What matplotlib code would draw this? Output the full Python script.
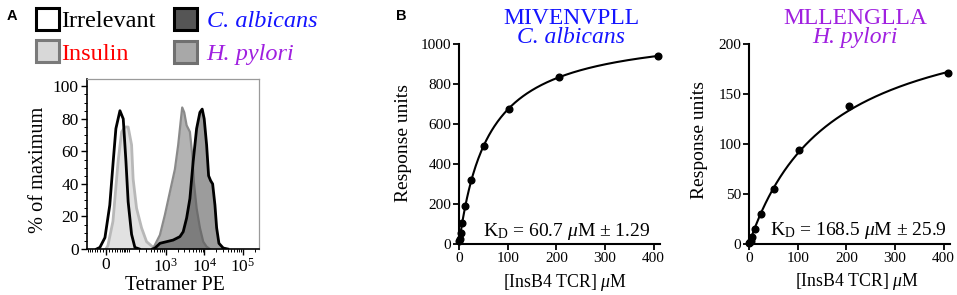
import numpy as np
import matplotlib
matplotlib.use("Agg")
import matplotlib.pyplot as plt
from matplotlib.patches import Rectangle

plt.rcParams['font.family'] = ['Liberation Serif', 'DejaVu Serif']
plt.rcParams['mathtext.fontset'] = 'custom'
plt.rcParams['mathtext.rm'] = 'Liberation Serif'
plt.rcParams['mathtext.it'] = 'Liberation Serif:italic'
plt.rcParams['mathtext.bf'] = 'Liberation Serif:bold'

# ---------------- Panel A data (Tetramer PE histograms) ----------------
irr_x = [-32, -20, -3, 13, 25, 35, 52, 68, 83, 97, 122, 151, 200]
irr_y = [0, 1, 7, 27, 54, 74, 85, 80, 54, 29, 9, 1, 0]

ins_x = [0, 6.6, 24, 44, 60, 77, 97, 122, 135, 168, 229, 311, 464, 520]
ins_y = [0, 2, 17, 54, 72, 75, 75, 64, 43, 25, 13, 4.5, 1, 0]

hp_x = [450, 514, 695, 937, 1263, 1704, 2076, 2398, 2638, 2974, 3434, 4180,
        4797, 5306, 6241, 7601, 9258, 11346, 13823]
hp_y = [0, 2.5, 8.6, 21, 35, 49, 64, 78, 87, 84, 76, 72, 58, 41, 25, 13, 4.5, 1.4, 0]

ca_x = [450, 514, 695, 1036, 1539, 2300, 2800, 3434, 4180, 5090, 6241, 7601,
        8720, 9826, 11346, 12790, 14430, 16270, 18670, 20660, 23700, 30640, 40000]
ca_y = [0, 0.5, 3.5, 4.5, 5.5, 7.6, 10.6, 19, 31, 54, 74, 84, 86, 80, 64, 45,
        42, 40, 27, 13, 3.5, 0.6, 0]

legend_labels = ['Irrelevant', 'Insulin', 'C. albicans', 'H. pylori']
legend_text_colors = ['black', '#ff0000', '#1414ff', '#a020e0']

a_xticks = [0, 1e3, 1e4, 1e5]
a_xticklabels = ['0', r'$10^3$', r'$10^4$', r'$10^5$']
a_yticks = [0, 20, 40, 60, 80, 100]

# ---------------- Panel B data (SPR binding) ----------------
conc = [0.8, 1.6, 3.2, 6.4, 12.8, 25.6, 51.2, 102.4, 204.8, 409.6]
ca_ru = [14, 27, 53, 107, 192, 318, 490, 677, 833, 940]
hp_ru = [1, 1.8, 3.5, 7, 15, 30, 55, 94.5, 138, 171]

kd_ca, bmax_ca = 60.7, 1080
kd_hp, bmax_hp = 168.5, 243

b1_title = ['MIVENVPLL', 'C. albicans']
b2_title = ['MLLENGLLA', 'H. pylori']
b1_kd_text = r'$\mathrm{K_D}$ = 60.7 $\mu$M ± 1.29'
b2_kd_text = r'$\mathrm{K_D}$ = 168.5 $\mu$M ± 25.9'

W, H = 957, 295
fig = plt.figure(figsize=(W / 100, H / 100), dpi=100)


def fx(x):
    return x / W


def fy(y):
    return 1 - y / H


def axes_px(x0, y0, x1, y1):
    return fig.add_axes([fx(x0), fy(y1), (x1 - x0) / W, (y1 - y0) / H])


# ---------------- Panel A ----------------
axA = axes_px(87, 79, 259, 249)
axA.set_xscale('asinh', linear_width=55)

axA.fill_between(ins_x, ins_y, 0, color='#dcdcdc', alpha=0.85, lw=0, zorder=1)
axA.plot(ins_x, ins_y, color='#b8b8b8', lw=2.0, zorder=2)
axA.plot(irr_x, irr_y, color='black', lw=2.0, zorder=3)

axA.fill_between(hp_x, hp_y, 0, color='#9a9a9a', alpha=0.75, lw=0, zorder=1)
axA.plot(hp_x, hp_y, color='#8a8a8a', lw=1.6, zorder=2)
axA.fill_between(ca_x, ca_y, 0, color='#5a5a5a', alpha=0.6, lw=0, zorder=2)
axA.plot(ca_x, ca_y, color='black', lw=2.0, zorder=3)

axA.set_xlim(-76, 2.6e5)
axA.set_ylim(0, 104.5)
axA.set_xticks(a_xticks)
axA.set_xticklabels(a_xticklabels)
minor_x = ([-70, -60, -50, -40, -30, -20, -10, 10, 20, 30, 40, 50, 60, 70, 80, 90]
           + [k * 100 for k in range(1, 10)]
           + [k * 1000 for k in range(2, 10)]
           + [k * 10000 for k in range(2, 10)] + [2e5])
axA.set_xticks(minor_x, minor=True)
axA.set_yticks(a_yticks)
axA.set_yticks(np.arange(0, 105, 5), minor=True)
axA.tick_params(axis='both', which='major', direction='out', length=4, width=1,
                labelsize=12.5, colors='black')
axA.tick_params(axis='both', which='minor', direction='out', length=2, width=0.7)
axA.tick_params(axis='x', pad=2)
axA.tick_params(axis='y', pad=2)
for s in ['top', 'right']:
    axA.spines[s].set_color('#9a9a9a')
    axA.spines[s].set_linewidth(0.9)
for s in ['left', 'bottom']:
    axA.spines[s].set_color('black')
    axA.spines[s].set_linewidth(1.2)
axA.set_xlabel('Tetramer PE', fontsize=14.3, va='center')
axA.xaxis.set_label_coords((175 - 87) / 172, (249 - 285) / 170)
axA.set_ylabel('% of maximum', fontsize=14.6, va='center')
axA.yaxis.set_label_coords((39 - 87) / 172, (249 - 170) / 170)

# Legend for panel A
boxes = [
    (35, 7.3, 'white', 'black'),
    (35, 39.3, '#d8d8d8', '#7a7a7a'),
    (173.3, 7.3, '#555555', 'black'),
    (173.3, 40.7, '#a8a8a8', '#707070'),
]
text_pos = [(61.5, 26.7), (61.5, 60), (206.7, 26.7), (206.7, 60)]
for (bx, by, fc, ec), (tx, ty), lab, col in zip(boxes, text_pos, legend_labels,
                                                legend_text_colors):
    fig.add_artist(Rectangle((fx(bx + 1), fy(by + 22.5)), 22.5 / W, 22 / H,
                             transform=fig.transFigure, facecolor=fc,
                             edgecolor=ec, lw=2.2))
    style = 'italic' if lab in ('C. albicans', 'H. pylori') else 'normal'
    fig.text(fx(tx), fy(ty), lab, fontsize=17.5, color=col, style=style,
             ha='left', va='baseline')

fig.text(fx(7), fy(20), 'A', fontsize=10.5, fontweight='bold',
         family='Liberation Sans', ha='left', va='baseline')
fig.text(fx(396), fy(20), 'B', fontsize=10.5, fontweight='bold',
         family='Liberation Sans', ha='left', va='baseline')


# ---------------- Panel B ----------------
def binding_panel(x0, conc, ru, kd, bmax, ymax, yticks, title, title_cx,
                  title_color, kd_text, kd_xy, ylab_xy, xlab_xy):
    ax = axes_px(x0, 44, x0 + 201, 244)
    cfit = np.linspace(0, max(conc), 300)
    ax.plot(cfit, bmax * cfit / (kd + cfit), color='black', lw=1.5, zorder=2)
    ax.plot(conc, ru, 'o', color='black', ms=4.8, zorder=3, clip_on=False)
    ax.set_xlim(0, 413)
    ax.set_ylim(0, ymax)
    ax.set_xticks([0, 100, 200, 300, 400])
    ax.set_yticks(yticks)
    for s in ['top', 'right']:
        ax.spines[s].set_visible(False)
    for s in ['left', 'bottom']:
        ax.spines[s].set_linewidth(1.5)
    ax.tick_params(direction='out', length=4, width=1.3, labelsize=11, pad=1.5)
    ax.set_ylabel('Response units', fontsize=14, va='center')
    ax.yaxis.set_label_coords((ylab_xy[0] - x0) / 201, (244 - ylab_xy[1]) / 200)
    ax.set_xlabel(r'[InsB4 TCR] $\mu$M', fontsize=12.8, va='center')
    ax.xaxis.set_label_coords((xlab_xy[0] - x0) / 201, (244 - xlab_xy[1]) / 200)
    fig.text(fx(title_cx), fy(24), title[0], fontsize=17, color=title_color,
             ha='center', va='baseline')
    fig.text(fx(title_cx), fy(43.3), title[1], fontsize=17, color=title_color,
             style='italic', ha='center', va='baseline')
    fig.text(fx(kd_xy[0]), fy(kd_xy[1]), kd_text, fontsize=14, ha='right',
             va='baseline')
    return ax


binding_panel(459, conc, ca_ru, kd_ca, bmax_ca, 1000, [0, 200, 400, 600, 800, 1000],
              b1_title, 571, '#1414ff', b1_kd_text, (650, 236.5),
              (403, 143), (565, 282.7))
binding_panel(749, conc, hp_ru, kd_hp, bmax_hp, 200, [0, 50, 100, 150, 200],
              b2_title, 855.5, '#a020e0', b2_kd_text, (947, 235),
              (699, 140), (856.7, 282))

fig.savefig('out.png', dpi=100)
